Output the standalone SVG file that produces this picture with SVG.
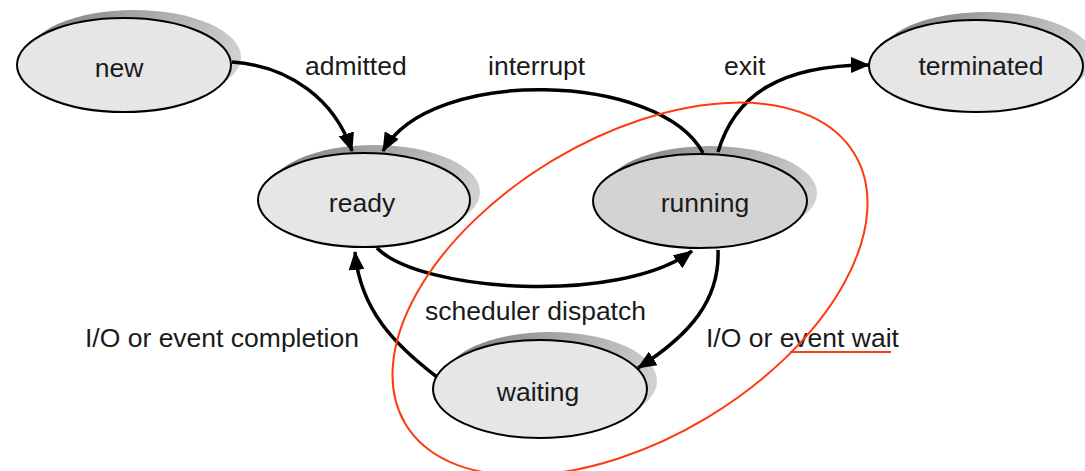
<svg xmlns="http://www.w3.org/2000/svg" width="1085" height="471" viewBox="0 0 1085 471">
<style>
.node{fill:#e6e6e6;stroke:#000;stroke-width:2}
.run{fill:#d3d3d3}
.shadow{fill:url(#sh)}
.t{font-family:"Liberation Sans",Arial,sans-serif;font-size:26.5px;fill:#1a1a1a}
.c{text-anchor:middle}
.edge{fill:none;stroke:#000;stroke-width:3.5;marker-end:url(#ah)}
.red{fill:none;stroke:#ff3a10;stroke-width:2}
</style>
<defs>
<linearGradient id="sh" x1="0" y1="0" x2="1" y2="0.4">
<stop offset="0" stop-color="#787878"/>
<stop offset="0.45" stop-color="#a4a4a4"/>
<stop offset="1" stop-color="#d0d0d0"/>
</linearGradient>
<marker id="ah" markerUnits="userSpaceOnUse" markerWidth="20" markerHeight="16" refX="18" refY="8" orient="auto">
<path d="M0,0 L19,8 L0,16 z" fill="#000"/>
</marker>
</defs>
<rect width="1085" height="471" fill="#fff"/>
<g id="new">
<ellipse class="shadow" cx="134" cy="57" rx="107" ry="47"/>
<ellipse class="node" cx="124" cy="65" rx="107" ry="47"/>
<text class="t c" x="119" y="77">new</text>
</g>
<g id="ready">
<ellipse class="shadow" cx="374" cy="192" rx="106" ry="47"/>
<ellipse class="node" cx="364" cy="200" rx="106" ry="47"/>
<text class="t c" x="362" y="212">ready</text>
</g>
<g id="running">
<ellipse class="shadow" cx="710" cy="193" rx="107" ry="47"/>
<ellipse class="node run" cx="700" cy="201" rx="107" ry="47"/>
<text class="t c" x="705" y="212">running</text>
</g>
<g id="waiting">
<ellipse class="shadow" cx="550" cy="381" rx="107" ry="49"/>
<ellipse class="node" cx="540" cy="389" rx="107" ry="49"/>
<text class="t c" x="538" y="401">waiting</text>
</g>
<g id="terminated">
<ellipse class="shadow" cx="986" cy="58" rx="107" ry="46"/>
<ellipse class="node" cx="976" cy="66" rx="107" ry="46"/>
<text class="t c" x="981" y="75">terminated</text>
</g>
<g id="connectors">
<path class="edge" d="M232,62 C290,66 335,100 352,151"/>
<path class="edge" d="M703,153 C660,72 430,66 383,151"/>
<path class="edge" d="M718,152 C735,95 780,65 869,65"/>
<path class="edge" d="M377,248 C420,292 620,305 692,251"/>
<path class="edge" d="M718,250 C720,300 690,335 638,368"/>
<path class="edge" d="M437,377 C395,345 360,310 355,252"/>
</g>
<g id="labels">
<text class="t" x="305" y="75">admitted</text>
<text class="t" x="488" y="75">interrupt</text>
<text class="t" x="724" y="75">exit</text>
<text class="t" x="425" y="320">scheduler dispatch</text>
<text class="t" x="85" y="347">I/O or event completion</text>
<text class="t" x="706" y="347">I/O or event wait</text>
</g>
<g id="annotation">
<ellipse class="red" cx="630" cy="289" rx="262" ry="150" transform="rotate(-31 630 289)"/>
<line class="red" x1="790" y1="352" x2="891" y2="352"/>
</g>
</svg>
